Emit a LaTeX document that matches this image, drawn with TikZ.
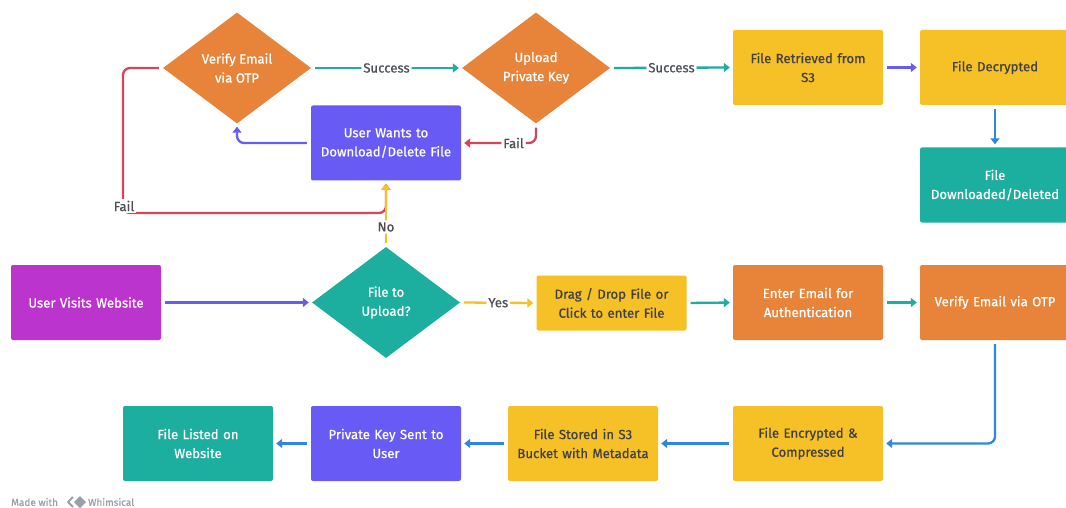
\documentclass[tikz,border=0pt]{standalone}
\usepackage{fontspec}
\setmainfont{Fira Sans}[FakeBold=0.7, AutoFakeBold=0.7]
\newfontfamily\wfont{Fira Sans}[FakeBold=0.7]
\usetikzlibrary{shapes.geometric,arrows.meta}
\definecolor{corange}{HTML}{E8843A}
\definecolor{cyellow}{HTML}{F6C127}
\definecolor{cteal}{HTML}{1CAE9E}
\definecolor{cindigo}{HTML}{685AF4}
\definecolor{cmagenta}{HTML}{BC34CE}
\definecolor{cred}{HTML}{D7445D}
\definecolor{cblue}{HTML}{2F87DF}
\definecolor{cdark}{HTML}{404040}
\definecolor{clabel}{HTML}{4A4F55}
\definecolor{cwm}{HTML}{9AA0A8}
\tikzset{
  box/.style={rectangle, rounded corners=2pt, minimum width=150pt, minimum height=75pt,
    text width=140pt, align=center, inner sep=0pt, font=\wfont\fontsize{13.2}{19}\selectfont},
  wbox/.style={box, text=white},
  ybox/.style={box, fill=cyellow, text=cdark},
  dia/.style={diamond, minimum width=148pt, minimum height=111pt, inner sep=0pt,
    align=center, text=white, font=\wfont\fontsize{13.2}{19}\selectfont},
  conn/.style={line width=2.3pt, rounded corners=7pt, shorten <=4pt, shorten >=3pt,
    -{Triangle[length=6pt,width=9pt]}},
  lbl/.style={fill=white, inner sep=2pt, text=clabel, font=\wfont\fontsize{13.2}{15}\selectfont},
}
\begin{document}
\begin{tikzpicture}[x=1pt,y=-1pt]
\useasboundingbox (0,0) rectangle (1066,508);
\fill[white] (0,0) rectangle (1066,508);
% nodes
\node[dia, fill=corange] (v1) at (237,68) {Verify Email\\via OTP};
\node[dia, fill=corange] (up) at (536,68) {Upload\\Private Key};
\node[ybox] (fr) at (808,67.5) {File Retrieved from\\S3};
\node[ybox] (fd) at (995,67.5) {File Decrypted};
\node[wbox, fill=cteal] (dl) at (995,185) {File\\Downloaded/Deleted};
\node[wbox, fill=cindigo] (uw) at (386,143) {User Wants to\\Download/Delete File};
\node[wbox, fill=cmagenta] (uv) at (86,302.5) {User Visits Website};
\node[dia, fill=cteal] (fu) at (386,302.5) {File to\\Upload?};
\node[ybox, minimum height=55pt] (dd) at (611.5,303) {Drag / Drop File or\\Click to enter File};
\node[wbox, fill=corange] (ee) at (808,302.5) {Enter Email for\\Authentication};
\node[wbox, fill=corange] (vb) at (995,302.5) {Verify Email via OTP};
\node[ybox] (en) at (808,443.5) {File Encrypted \&\\Compressed};
\node[ybox] (st) at (583,443.5) {File Stored in S3\\Bucket with Metadata};
\node[wbox, fill=cindigo] (pk) at (386,443.5) {Private Key Sent to\\User};
\node[wbox, fill=cteal] (fl) at (198,443.5) {File Listed on\\Website};
% connectors
\draw[conn, cred] (v1.west) -- (123,68) -- (123,213) -- (386,213) -- (uw.south);
\node[lbl] (failA) at (124,206) {Fail};
\draw[conn, cyellow] (fu.north) -- node[lbl, pos=0.3] {No} (uw.south);
\draw[conn, cindigo] (uv.east) -- (fu.west);
\draw[conn, cyellow] (fu.east) -- node[lbl] {Yes} (dd.west);
\draw[conn, cteal] (dd.east) -- (ee.west);
\draw[conn, cteal] (ee.east) -- (vb.west);
\draw[conn, cblue] (vb.south) -- (995,443.5) -- (en.east);
\draw[conn, cblue] (en.west) -- (st.east);
\draw[conn, cblue] (st.west) -- (pk.east);
\draw[conn, cblue] (pk.west) -- (fl.east);
\draw[conn, cindigo] (uw.west) -- (237,143) -- (v1.south);
\draw[conn, cteal] (v1.east) -- node[lbl] {Success} (up.west);
\draw[conn, cteal] (up.east) -- node[lbl] {Success} (fr.west);
\draw[conn, cred] (up.south) -- (536,143) -- node[lbl, pos=0.3] {Fail} (uw.east);
\draw[conn, cindigo] (fr.east) -- (fd.west);
\draw[conn, cblue] (fd.south) -- (dl.north);
% watermark
\node[anchor=west, inner sep=0pt, text=cwm, font=\wfont\fontsize{10}{12}\selectfont] (mw) at (11,502) {Made with};
\draw[cwm, line width=1.8pt, line join=round] (73,497) -- (68,502) -- (73,507);
\fill[cwm] (80,496) -- (86,502) -- (80,508) -- (74,502) -- cycle;
\node[anchor=west, inner sep=0pt, text=cwm, font=\wfont\fontsize{10}{12}\selectfont] (wh) at (88,502) {Whimsical};
\end{tikzpicture}
\end{document}
